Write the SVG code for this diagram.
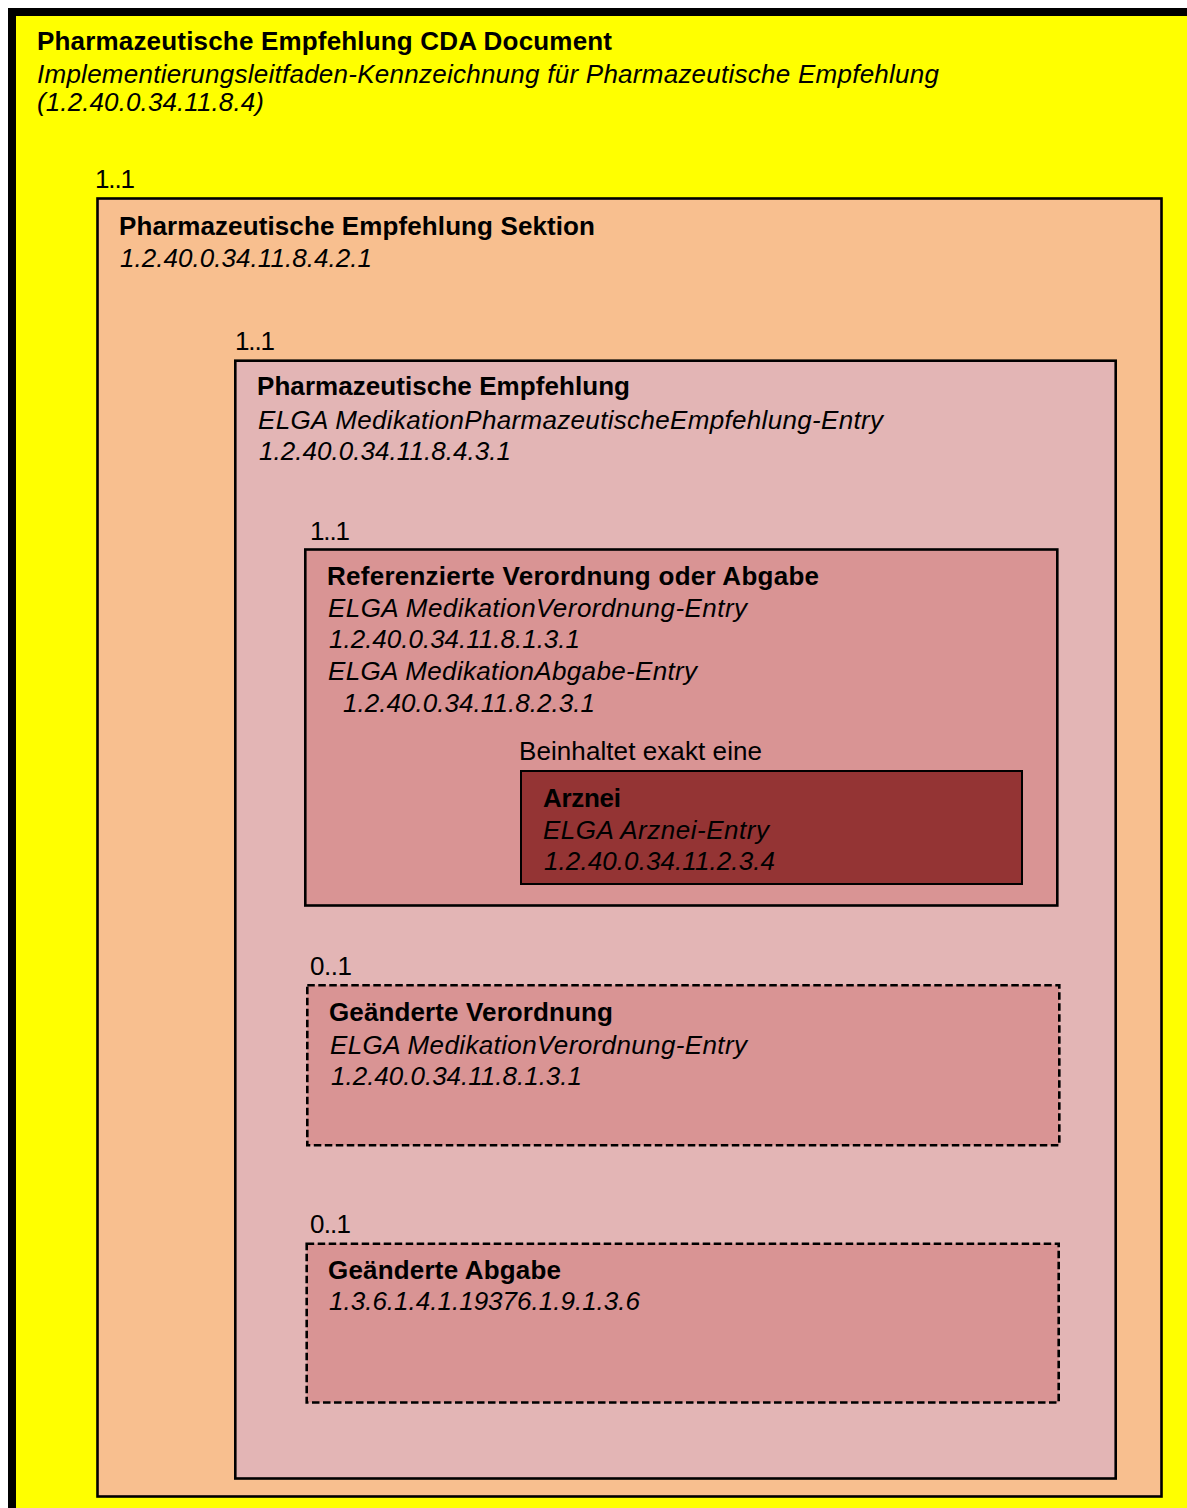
<svg xmlns="http://www.w3.org/2000/svg" width="1187" height="1508" viewBox="0 0 1187 1508">
<style>
text{font-family:"Liberation Sans",Arial,sans-serif;font-size:26px;fill:#000}
.b{font-weight:bold}
.i{font-style:italic}
.box{stroke:#000;stroke-width:2.6}
.dash{stroke-dasharray:7.5,3.5}
</style>
<rect x="0" y="0" width="1187" height="1508" fill="#fff"/>
<g id="document">
<rect x="12" y="12" width="1200" height="1520" fill="#FFFF00" stroke="#000" stroke-width="8"/>
<text class="b" x="37" y="50" textLength="575" lengthAdjust="spacing">Pharmazeutische Empfehlung CDA Document</text>
<text class="i" x="37" y="83" textLength="902" lengthAdjust="spacing">Implementierungsleitfaden-Kennzeichnung für Pharmazeutische Empfehlung</text>
<text class="i" x="37" y="111" textLength="227" lengthAdjust="spacing">(1.2.40.0.34.11.8.4)</text>
</g>
<g id="sektion">
<text x="95" y="188" textLength="40" lengthAdjust="spacing">1..1</text>
<rect class="box" x="97.5" y="198.5" width="1064" height="1298" fill="#F8BF8F" stroke-width="3"/>
<text class="b" x="119" y="235" textLength="476" lengthAdjust="spacing">Pharmazeutische Empfehlung Sektion</text>
<text class="i" x="120" y="267" textLength="252" lengthAdjust="spacing">1.2.40.0.34.11.8.4.2.1</text>
</g>
<g id="empfehlung">
<text x="235" y="350" textLength="40" lengthAdjust="spacing">1..1</text>
<rect class="box" x="235.3" y="360.7" width="880.4" height="1117.8" fill="#E3B5B5"/>
<text class="b" x="257" y="395" textLength="373" lengthAdjust="spacing">Pharmazeutische Empfehlung</text>
<text class="i" x="258" y="429" textLength="625" lengthAdjust="spacing">ELGA MedikationPharmazeutischeEmpfehlung-Entry</text>
<text class="i" x="259" y="460" textLength="252" lengthAdjust="spacing">1.2.40.0.34.11.8.4.3.1</text>
</g>
<g id="referenzierte">
<text x="310" y="540" textLength="40" lengthAdjust="spacing">1..1</text>
<rect class="box" x="305.3" y="549.5" width="752" height="356" fill="#D99494"/>
<text class="b" x="327" y="585" textLength="492" lengthAdjust="spacing">Referenzierte Verordnung oder Abgabe</text>
<text class="i" x="328" y="617" textLength="419" lengthAdjust="spacing">ELGA MedikationVerordnung-Entry</text>
<text class="i" x="329" y="648" textLength="251" lengthAdjust="spacing">1.2.40.0.34.11.8.1.3.1</text>
<text class="i" x="328" y="680" textLength="369" lengthAdjust="spacing">ELGA MedikationAbgabe-Entry</text>
<text class="i" x="343" y="712" textLength="252" lengthAdjust="spacing">1.2.40.0.34.11.8.2.3.1</text>
<text x="519" y="760" textLength="243" lengthAdjust="spacing">Beinhaltet exakt eine</text>
</g>
<g id="arznei">
<rect x="521" y="771" width="501" height="113" fill="#943434" stroke="#000" stroke-width="2"/>
<text class="b" x="543" y="807" textLength="78" lengthAdjust="spacing">Arznei</text>
<text class="i" x="543" y="839" textLength="226" lengthAdjust="spacing">ELGA Arznei-Entry</text>
<text class="i" x="544" y="870" textLength="231" lengthAdjust="spacing">1.2.40.0.34.11.2.3.4</text>
</g>
<g id="geaenderte-verordnung">
<text x="310" y="975" textLength="42" lengthAdjust="spacing">0..1</text>
<rect class="box dash" x="307.3" y="985.3" width="752" height="160" fill="#D99494"/>
<text class="b" x="329" y="1021" textLength="284" lengthAdjust="spacing">Geänderte Verordnung</text>
<text class="i" x="330" y="1054" textLength="417" lengthAdjust="spacing">ELGA MedikationVerordnung-Entry</text>
<text class="i" x="331" y="1085" textLength="251" lengthAdjust="spacing">1.2.40.0.34.11.8.1.3.1</text>
</g>
<g id="geaenderte-abgabe">
<text x="310" y="1233" textLength="41" lengthAdjust="spacing">0..1</text>
<rect class="box dash" x="306.7" y="1243.7" width="752" height="158.8" fill="#D99494"/>
<text class="b" x="328" y="1279" textLength="233" lengthAdjust="spacing">Geänderte Abgabe</text>
<text class="i" x="329" y="1310" textLength="311" lengthAdjust="spacing">1.3.6.1.4.1.19376.1.9.1.3.6</text>
</g>
<g id="connectors"></g>
</svg>
